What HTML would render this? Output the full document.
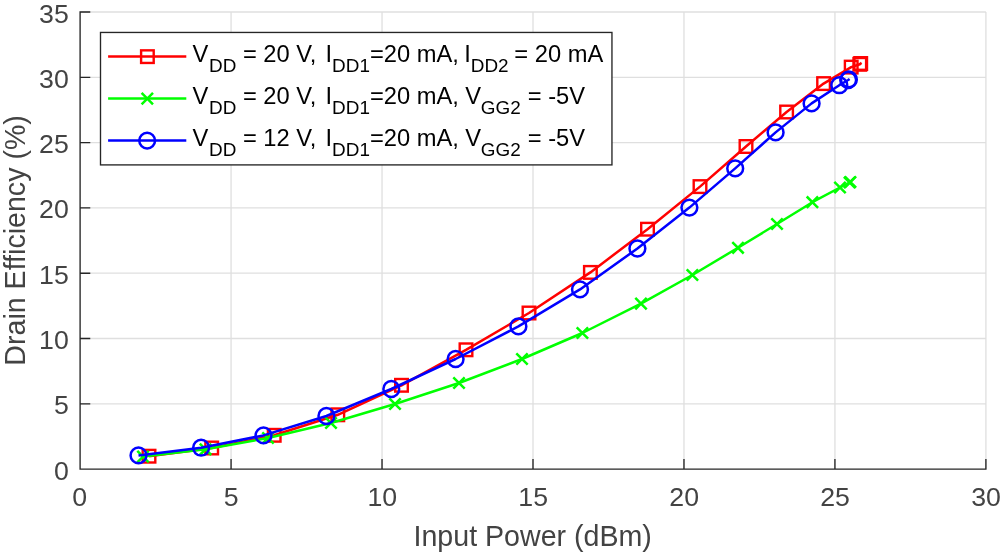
<!DOCTYPE html>
<html><head><meta charset="utf-8"><title>Drain Efficiency</title>
<style>
html,body{margin:0;padding:0;background:#fff;}
body{width:1000px;height:552px;overflow:hidden;font-family:"Liberation Sans",sans-serif;}
svg{display:block;opacity:0.999;will-change:transform;}
text{font-family:"Liberation Sans",sans-serif;}
.tk{font-size:26.7px;fill:#434343;}
.lb{font-size:28.6px;fill:#434343;}
.lg{font-size:23.7px;fill:#000;}
.sb{font-size:18.9px;}
</style></head><body>
<svg width="1000" height="552" viewBox="0 0 1000 552">
<rect x="0" y="0" width="1000" height="552" fill="#ffffff"/>
<path d="M231.07 12.00V469.10M382.03 12.00V469.10M533.00 12.00V469.10M683.97 12.00V469.10M834.93 12.00V469.10M985.90 12.00V469.10M80.10 403.80H985.90M80.10 338.50H985.90M80.10 273.20H985.90M80.10 207.90H985.90M80.10 142.60H985.90M80.10 77.30H985.90M80.10 12.00H985.90" stroke="#dfdfdf" stroke-width="1.3" fill="none"/>
<path d="M80.10 12.00V469.10H985.90M80.10 469.10v-9.50M231.07 469.10v-9.50M382.03 469.10v-9.50M533.00 469.10v-9.50M683.97 469.10v-9.50M834.93 469.10v-9.50M985.90 469.10v-9.50M80.10 469.10h9.50M80.10 403.80h9.50M80.10 338.50h9.50M80.10 273.20h9.50M80.10 207.90h9.50M80.10 142.60h9.50M80.10 77.30h9.50M80.10 12.00h9.50" stroke="#262626" stroke-width="1.35" fill="none" stroke-linecap="square"/>
<text class="tk" x="79.60" y="506.4" text-anchor="middle">0</text>
<text class="tk" x="231.27" y="506.4" text-anchor="middle">5</text>
<text class="tk" x="382.23" y="506.4" text-anchor="middle">10</text>
<text class="tk" x="533.20" y="506.4" text-anchor="middle">15</text>
<text class="tk" x="684.17" y="506.4" text-anchor="middle">20</text>
<text class="tk" x="835.13" y="506.4" text-anchor="middle">25</text>
<text class="tk" x="986.10" y="506.4" text-anchor="middle">30</text>
<text class="tk" x="68.8" y="479.60" text-anchor="end">0</text>
<text class="tk" x="68.8" y="414.30" text-anchor="end">5</text>
<text class="tk" x="68.8" y="349.00" text-anchor="end">10</text>
<text class="tk" x="68.8" y="283.70" text-anchor="end">15</text>
<text class="tk" x="68.8" y="218.40" text-anchor="end">20</text>
<text class="tk" x="68.8" y="153.10" text-anchor="end">25</text>
<text class="tk" x="68.8" y="87.80" text-anchor="end">30</text>
<text class="tk" x="68.8" y="22.50" text-anchor="end">35</text>
<text class="lb" x="532.7" y="545.8" text-anchor="middle">Input Power (dBm)</text>
<text class="lb" transform="translate(24.6,240.4) rotate(-90)" text-anchor="middle">Drain Efficiency (%)</text>
<polyline fill="none" stroke="#ff0000" stroke-width="2.5" stroke-linejoin="round" points="149.0,456.2 211.7,448.0 274.2,435.3 337.8,414.8 401.5,385.3 466.0,349.8 529.0,313.0 590.4,272.4 647.5,229.2 700.0,186.6 746.0,146.5 786.6,112.0 823.6,83.6 851.2,67.1 859.8,64.3 860.7,63.5 861.6,62.9"/>
<rect x="142.70" y="449.90" width="12.6" height="12.6" fill="none" stroke="#ff0000" stroke-width="2.4"/><rect x="205.40" y="441.70" width="12.6" height="12.6" fill="none" stroke="#ff0000" stroke-width="2.4"/><rect x="267.90" y="429.00" width="12.6" height="12.6" fill="none" stroke="#ff0000" stroke-width="2.4"/><rect x="331.50" y="408.50" width="12.6" height="12.6" fill="none" stroke="#ff0000" stroke-width="2.4"/><rect x="395.20" y="379.00" width="12.6" height="12.6" fill="none" stroke="#ff0000" stroke-width="2.4"/><rect x="459.70" y="343.50" width="12.6" height="12.6" fill="none" stroke="#ff0000" stroke-width="2.4"/><rect x="522.70" y="306.70" width="12.6" height="12.6" fill="none" stroke="#ff0000" stroke-width="2.4"/><rect x="584.10" y="266.10" width="12.6" height="12.6" fill="none" stroke="#ff0000" stroke-width="2.4"/><rect x="641.20" y="222.90" width="12.6" height="12.6" fill="none" stroke="#ff0000" stroke-width="2.4"/><rect x="693.70" y="180.30" width="12.6" height="12.6" fill="none" stroke="#ff0000" stroke-width="2.4"/><rect x="739.70" y="140.20" width="12.6" height="12.6" fill="none" stroke="#ff0000" stroke-width="2.4"/><rect x="780.30" y="105.70" width="12.6" height="12.6" fill="none" stroke="#ff0000" stroke-width="2.4"/><rect x="817.30" y="77.30" width="12.6" height="12.6" fill="none" stroke="#ff0000" stroke-width="2.4"/><rect x="844.90" y="60.80" width="12.6" height="12.6" fill="none" stroke="#ff0000" stroke-width="2.4"/><rect x="853.50" y="58.00" width="12.6" height="12.6" fill="none" stroke="#ff0000" stroke-width="2.4"/><rect x="854.40" y="57.20" width="12.6" height="12.6" fill="none" stroke="#ff0000" stroke-width="2.4"/>
<polyline fill="none" stroke="#00ff00" stroke-width="2.5" stroke-linejoin="round" points="143.0,456.6 205.5,449.3 268.0,438.0 331.0,423.0 395.0,404.0 459.0,383.0 522.0,359.0 582.4,333.0 641.0,303.6 692.4,275.0 738.0,247.8 777.0,224.0 812.4,202.2 840.0,187.5 849.6,182.5 850.4,182.0"/>
<path d="M137.30 450.90L148.70 462.30M137.30 462.30L148.70 450.90" fill="none" stroke="#00ff00" stroke-width="2.5"/><path d="M199.80 443.60L211.20 455.00M199.80 455.00L211.20 443.60" fill="none" stroke="#00ff00" stroke-width="2.5"/><path d="M262.30 432.30L273.70 443.70M262.30 443.70L273.70 432.30" fill="none" stroke="#00ff00" stroke-width="2.5"/><path d="M325.30 417.30L336.70 428.70M325.30 428.70L336.70 417.30" fill="none" stroke="#00ff00" stroke-width="2.5"/><path d="M389.30 398.30L400.70 409.70M389.30 409.70L400.70 398.30" fill="none" stroke="#00ff00" stroke-width="2.5"/><path d="M453.30 377.30L464.70 388.70M453.30 388.70L464.70 377.30" fill="none" stroke="#00ff00" stroke-width="2.5"/><path d="M516.30 353.30L527.70 364.70M516.30 364.70L527.70 353.30" fill="none" stroke="#00ff00" stroke-width="2.5"/><path d="M576.70 327.30L588.10 338.70M576.70 338.70L588.10 327.30" fill="none" stroke="#00ff00" stroke-width="2.5"/><path d="M635.30 297.90L646.70 309.30M635.30 309.30L646.70 297.90" fill="none" stroke="#00ff00" stroke-width="2.5"/><path d="M686.70 269.30L698.10 280.70M686.70 280.70L698.10 269.30" fill="none" stroke="#00ff00" stroke-width="2.5"/><path d="M732.30 242.10L743.70 253.50M732.30 253.50L743.70 242.10" fill="none" stroke="#00ff00" stroke-width="2.5"/><path d="M771.30 218.30L782.70 229.70M771.30 229.70L782.70 218.30" fill="none" stroke="#00ff00" stroke-width="2.5"/><path d="M806.70 196.50L818.10 207.90M806.70 207.90L818.10 196.50" fill="none" stroke="#00ff00" stroke-width="2.5"/><path d="M834.30 181.80L845.70 193.20M834.30 193.20L845.70 181.80" fill="none" stroke="#00ff00" stroke-width="2.5"/><path d="M843.90 176.80L855.30 188.20M843.90 188.20L855.30 176.80" fill="none" stroke="#00ff00" stroke-width="2.5"/><path d="M844.70 176.30L856.10 187.70M844.70 187.70L856.10 176.30" fill="none" stroke="#00ff00" stroke-width="2.5"/>
<polyline fill="none" stroke="#0000ff" stroke-width="2.5" stroke-linejoin="round" points="138.5,455.4 201.1,447.7 263.5,435.4 326.4,416.0 391.3,389.0 455.6,359.0 518.4,326.4 580.0,289.4 637.4,248.5 689.4,207.6 735.2,168.4 775.6,132.4 811.6,103.4 839.3,85.2 848.2,80.0 848.9,79.4 849.6,78.9"/>
<circle cx="138.50" cy="455.40" r="7.9" fill="none" stroke="#0000ff" stroke-width="2.5"/><circle cx="201.10" cy="447.70" r="7.9" fill="none" stroke="#0000ff" stroke-width="2.5"/><circle cx="263.50" cy="435.40" r="7.9" fill="none" stroke="#0000ff" stroke-width="2.5"/><circle cx="326.40" cy="416.00" r="7.9" fill="none" stroke="#0000ff" stroke-width="2.5"/><circle cx="391.30" cy="389.00" r="7.9" fill="none" stroke="#0000ff" stroke-width="2.5"/><circle cx="455.60" cy="359.00" r="7.9" fill="none" stroke="#0000ff" stroke-width="2.5"/><circle cx="518.40" cy="326.40" r="7.9" fill="none" stroke="#0000ff" stroke-width="2.5"/><circle cx="580.00" cy="289.40" r="7.9" fill="none" stroke="#0000ff" stroke-width="2.5"/><circle cx="637.40" cy="248.50" r="7.9" fill="none" stroke="#0000ff" stroke-width="2.5"/><circle cx="689.40" cy="207.60" r="7.9" fill="none" stroke="#0000ff" stroke-width="2.5"/><circle cx="735.20" cy="168.40" r="7.9" fill="none" stroke="#0000ff" stroke-width="2.5"/><circle cx="775.60" cy="132.40" r="7.9" fill="none" stroke="#0000ff" stroke-width="2.5"/><circle cx="811.60" cy="103.40" r="7.9" fill="none" stroke="#0000ff" stroke-width="2.5"/><circle cx="839.30" cy="85.20" r="7.9" fill="none" stroke="#0000ff" stroke-width="2.5"/><circle cx="848.20" cy="80.00" r="7.9" fill="none" stroke="#0000ff" stroke-width="2.5"/><circle cx="848.90" cy="79.40" r="7.9" fill="none" stroke="#0000ff" stroke-width="2.5"/>
<rect x="100.5" y="32.45" width="511.45" height="132.45" fill="#ffffff" stroke="#262626" stroke-width="1.35"/>
<path d="M108.1 56.60H186.3" stroke="#ff0000" stroke-width="2.5"/>
<path d="M108.1 98.60H186.3" stroke="#00ff00" stroke-width="2.5"/>
<path d="M108.1 140.60H186.3" stroke="#0000ff" stroke-width="2.5"/>
<rect x="141.10" y="50.35" width="12.6" height="12.6" fill="none" stroke="#ff0000" stroke-width="2.4"/>
<path d="M141.60 92.90L153.00 104.30M141.60 104.30L153.00 92.90" fill="none" stroke="#00ff00" stroke-width="2.5"/>
<circle cx="147.15" cy="140.60" r="7.9" fill="none" stroke="#0000ff" stroke-width="2.5"/>
<text class="lg" x="192.6" y="61.50"><tspan dy="0">V</tspan><tspan class="sb" dx="0.6" dy="10.7">DD</tspan><tspan dy="-10.7"> = 20 V,</tspan><tspan dx="2.5" dy="0"> I</tspan><tspan class="sb" dy="10.7">DD1</tspan><tspan dy="-10.7">=20 mA,</tspan><tspan dx="-1.2" dy="0"> I</tspan><tspan class="sb" dy="10.7">DD2</tspan><tspan dx="-0.8" dy="-10.7"> = 20 mA</tspan></text>
<text class="lg" x="192.6" y="103.50"><tspan dy="0">V</tspan><tspan class="sb" dx="0.6" dy="10.7">DD</tspan><tspan dy="-10.7"> = 20 V,</tspan><tspan dx="2.5" dy="0"> I</tspan><tspan class="sb" dy="10.7">DD1</tspan><tspan dy="-10.7">=20 mA,</tspan><tspan dy="0"> V</tspan><tspan class="sb" dx="-0.4" dy="10.7">GG2</tspan><tspan dx="0.5" dy="-10.7"> = -5V</tspan></text>
<text class="lg" x="192.6" y="145.50"><tspan dy="0">V</tspan><tspan class="sb" dx="0.6" dy="10.7">DD</tspan><tspan dy="-10.7"> = 12 V,</tspan><tspan dx="2.5" dy="0"> I</tspan><tspan class="sb" dy="10.7">DD1</tspan><tspan dy="-10.7">=20 mA,</tspan><tspan dy="0"> V</tspan><tspan class="sb" dx="-0.4" dy="10.7">GG2</tspan><tspan dx="0.5" dy="-10.7"> = -5V</tspan></text>
</svg></body></html>
